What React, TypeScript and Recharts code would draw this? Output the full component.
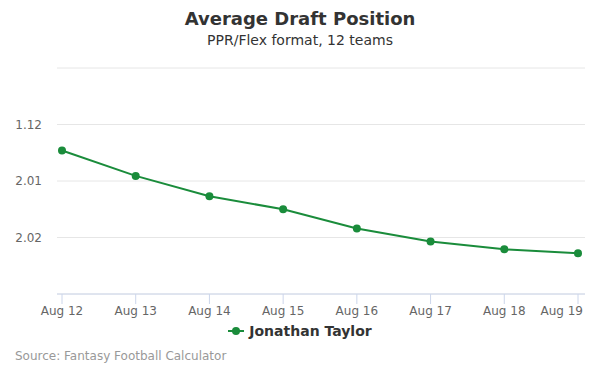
import { LineChart, Line, XAxis, YAxis, CartesianGrid, Legend } from 'recharts';

const dates = ['Aug 12', 'Aug 13', 'Aug 14', 'Aug 15', 'Aug 16', 'Aug 17', 'Aug 18', 'Aug 19'];
const adp = [12.46, 12.91, 13.27, 13.5, 13.84, 14.07, 14.21, 14.28];
const yTicks = [11, 12, 13, 14, 15];
const yLabels: Record<number, string> = { 12: '1.12', 13: '2.01', 14: '2.02' };

const data = dates.map((d, i) => ({ date: d, adp: adp[i] }));

const font = '"DejaVu Sans", sans-serif';
const green = '#1a8c3b';

function LegendContent() {
  return (
    <div style={{ display: 'flex', justifyContent: 'center', alignItems: 'center', fontFamily: font }}>
      <svg width={16} height={12} style={{ marginRight: 5 }}>
        <line x1={0} y1={6} x2={16} y2={6} stroke={green} strokeWidth={2} />
        <circle cx={8} cy={6} r={4} fill={green} />
      </svg>
      <span style={{ fontSize: 14, fontWeight: 'bold', color: '#333333' }}>Jonathan Taylor</span>
    </div>
  );
}

// last label is pulled left so it stays inside the chart, like the original
function DateTick(props: any) {
  const { x, y, payload, index } = props;
  const last = index === dates.length - 1;
  return (
    <text
      x={last ? x + 5 : x}
      y={y}
      dy="0.71em"
      textAnchor={last ? 'end' : 'middle'}
      fontSize={12}
      fill="#666666"
      fontFamily={font}
    >
      {payload.value}
    </text>
  );
}

export default function App() {
  return (
    <div style={{ position: 'relative', width: 600, height: 375, margin: -8, fontFamily: font, background: '#fff' }}>
      <div style={{ position: 'absolute', top: 8, width: 600, textAlign: 'center', fontSize: 18, fontWeight: 'bold', color: '#333333' }}>
        Average Draft Position
      </div>
      <div style={{ position: 'absolute', top: 32, width: 600, textAlign: 'center', fontSize: 14, color: '#333333' }}>
        PPR/Flex format, 12 teams
      </div>
      <LineChart width={600} height={375} data={data} margin={{ top: 68, right: 15, bottom: 51, left: 0 }}>
        <CartesianGrid vertical={false} stroke="#e6e6e6" />
        <XAxis
          dataKey="date"
          height={30}
          padding={{ left: 5, right: 7 }}
          stroke="#ccd6eb"
          tickSize={10}
          tickMargin={2}
          tick={<DateTick />}
          interval={0}
        />
        <YAxis
          width={57}
          domain={[11, 15]}
          ticks={yTicks}
          reversed
          axisLine={false}
          tickLine={false}
          tickSize={0}
          tickMargin={15}
          tickFormatter={(v: number) => yLabels[v] ?? ''}
          tick={{ fontSize: 12, fill: '#666666', fontFamily: font }}
        />
        <Legend
          verticalAlign="middle"
          align="center"
          layout="horizontal"
          content={LegendContent}
          wrapperStyle={{ top: 323, left: 0, width: 600 }}
        />
        <Line
          type="linear"
          dataKey="adp"
          stroke={green}
          strokeWidth={2}
          dot={{ r: 4, fill: green, stroke: green, strokeWidth: 0 }}
          isAnimationActive={false}
        />
      </LineChart>
      <div style={{ position: 'absolute', top: 349, left: 15, fontSize: 12, color: '#999999' }}>
        Source: Fantasy Football Calculator
      </div>
    </div>
  );
}
